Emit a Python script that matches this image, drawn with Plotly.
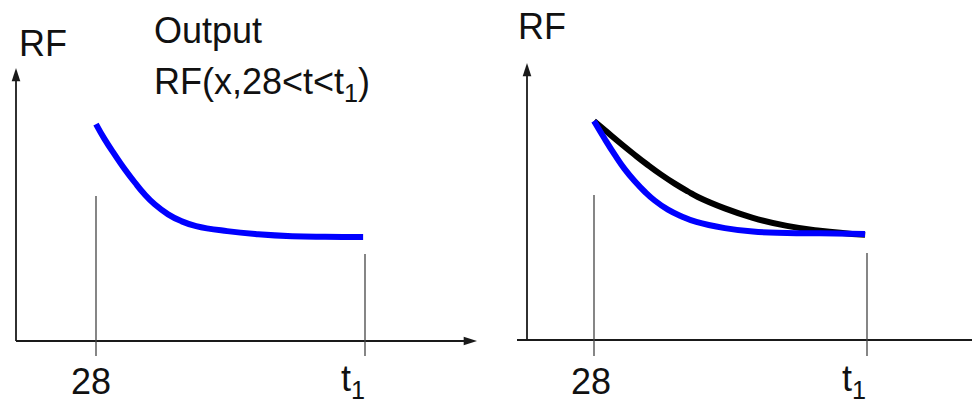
import plotly.graph_objects as go
from plotly.subplots import make_subplots

# ---------------- data ----------------
T_START = 28          # start of the interval (days)
T1 = 100              # symbolic end time t1
tick_vals = [T_START, T1]
tick_text = ["28", "t<sub>1</sub>"]

# left panel: output RF(x, 28<t<t1)
left_t = [28, 30.3, 33.0, 35.7, 38.4, 41.0, 43.7, 47.3, 50.8, 54.8, 63.1, 71.4, 80.5, 89.3, 99.5]
left_rf = [0.995, 0.926, 0.855, 0.788, 0.727, 0.673, 0.627, 0.581, 0.550, 0.527, 0.504, 0.490, 0.481,
           0.478, 0.477]

# right panel: blue (output) and black (comparison) curves
right_blue_t = [28, 30.8, 33.5, 36.1, 38.7, 41.4, 44.0, 47.5, 51.0, 55.0, 62.5, 69.9, 78.9, 87.6, 99.5]
right_blue_rf = [1.0, 0.919, 0.845, 0.780, 0.726, 0.677, 0.637, 0.595, 0.565, 0.539, 0.511, 0.495, 0.489,
                 0.487, 0.484]
right_black_t = [28, 31.7, 35.2, 38.7, 42.2, 45.7, 49.3, 52.8, 55.4, 62.5, 69.9, 78.9, 87.6, 99.5]
right_black_rf = [1.0, 0.946, 0.895, 0.846, 0.799, 0.755, 0.714, 0.678, 0.653, 0.601, 0.558, 0.521,
                  0.499, 0.480]

# ---------------- layout geometry (pixels) ----------------
W, H = 972, 405
FONT = "Liberation Sans, Arial, sans-serif"
panels = [
    dict(off=0, p28=96, pT1=365, py0=341, py1=123, yax=16, xstart=16, xtip=477,
         ytip=68, g28=196, gT1=254, gbot=356, sh28=-5, shT1=-12),
    dict(off=486, p28=594, pT1=867, py0=340, py1=121, yax=527, xstart=517, xtip=976,
         ytip=63, g28=195, gT1=253, gbot=356, sh28=-3, shT1=-13),
]
PW = W / 2

fig = make_subplots(rows=1, cols=2, horizontal_spacing=0)


def tx(p, px):
    k = (T1 - T_START) / (p["pT1"] - p["p28"])
    return T_START + (px - p["p28"]) * k


def ry(p, py):
    return (p["py0"] - py) / (p["py0"] - p["py1"])


for i, p in enumerate(panels):
    xa = tx(p, p["off"])
    xb = tx(p, p["off"] + PW)
    yb = ry(p, 0)
    ya = ry(p, H)
    xn = "xaxis" if i == 0 else "xaxis2"
    yn = "yaxis" if i == 0 else "yaxis2"
    fig.layout[xn].update(range=[xa, xb], visible=False, fixedrange=True)
    fig.layout[yn].update(range=[ya, yb], visible=False, fixedrange=True)

AX_COLOR = "#1a1a1a"
TXT_COLOR = "#111111"

for i, p in enumerate(panels):
    xr = "x" if i == 0 else "x2"
    yr = "y" if i == 0 else "y2"
    x0 = tx(p, p["yax"])
    # axis lines
    fig.add_shape(type="line", xref=xr, yref=yr, x0=tx(p, p["xstart"]), x1=tx(p, p["xtip"] - 4), y0=0, y1=0,
                  line=dict(color=AX_COLOR, width=1.8))
    fig.add_shape(type="line", xref=xr, yref=yr, x0=x0, x1=x0, y0=0, y1=ry(p, p["ytip"] + 4),
                  line=dict(color=AX_COLOR, width=1.8))
    # arrow heads
    fig.add_trace(go.Scatter(x=[tx(p, p["xtip"]), x0], y=[0, ry(p, p["ytip"])], mode="markers",
                             marker=dict(symbol="arrow", size=14, angle=[90, 0], color=AX_COLOR,
                                         line=dict(width=0)),
                             cliponaxis=False, showlegend=False, hoverinfo="skip"), row=1, col=i + 1)
    # guide lines at 28 and t1
    for tv, top in [(T_START, p["g28"]), (T1, p["gT1"])]:
        fig.add_shape(type="line", xref=xr, yref=yr, x0=tv, x1=tv, y0=ry(p, p["gbot"]), y1=ry(p, top),
                      line=dict(color="#444444", width=1.3))
    # tick labels
    for tv, tt, dx in zip(tick_vals, tick_text, [p["sh28"], p["shT1"]]):
        fig.add_annotation(x=tv, y=ry(p, 381), xref=xr, yref=yr, text=tt, showarrow=False,
                           xshift=dx, font=dict(family=FONT, size=36, color=TXT_COLOR),
                           xanchor="center", yanchor="middle")

# curves
LW = 6
SM = 1.3
fig.add_trace(go.Scatter(x=left_t, y=left_rf, mode="lines",
                         line=dict(color="#0000ff", width=LW, shape="spline", smoothing=SM),
                         showlegend=False, hoverinfo="skip"), row=1, col=1)
fig.add_trace(go.Scatter(x=right_black_t, y=right_black_rf, mode="lines",
                         line=dict(color="#000000", width=LW, shape="spline", smoothing=SM),
                         showlegend=False, hoverinfo="skip"), row=1, col=2)
fig.add_trace(go.Scatter(x=right_blue_t, y=right_blue_rf, mode="lines",
                         line=dict(color="#0000ff", width=LW, shape="spline", smoothing=SM),
                         showlegend=False, hoverinfo="skip"), row=1, col=2)

# axis titles and output label (paper coordinates)
labels = [
    ("RF", 43, 44, "center"),
    ("RF", 542, 27, "center"),
    ("Output", 152, 30, "left"),
    ("RF(x,28&lt;t&lt;t<sub>1</sub>)", 152, 84, "left"),
]
for txt, px, py, xa in labels:
    fig.add_annotation(x=px / W, y=1 - py / H, xref="paper", yref="paper", text=txt, showarrow=False,
                       xanchor=xa, yanchor="middle", font=dict(family=FONT, size=36, color=TXT_COLOR))

fig.update_layout(width=W, height=H, margin=dict(l=0, r=0, t=0, b=0), autosize=False,
                  paper_bgcolor="white", plot_bgcolor="white", showlegend=False)

fig.write_html("out.html", config={"displayModeBar": False},
               post_script="document.body.style.margin='0';")
